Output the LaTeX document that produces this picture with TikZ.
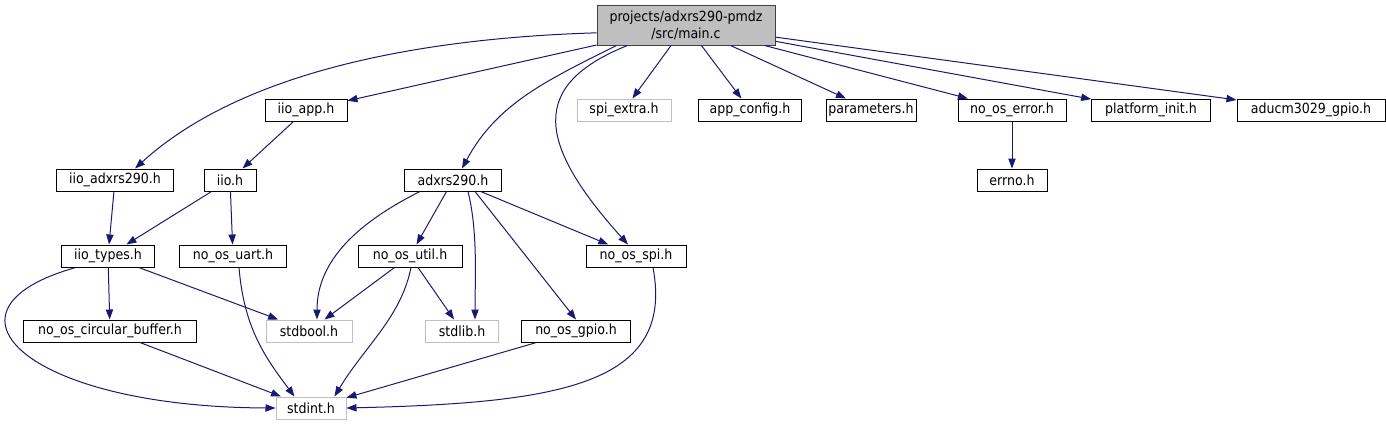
\documentclass[tikz,border=0pt]{standalone}
\usepackage{fontspec}
\setmainfont{DejaVu Sans Condensed}
\usetikzlibrary{calc, arrows.meta, positioning}
\definecolor{edgeblue}{HTML}{191970}
\definecolor{hdrgray}{HTML}{BFBFBF}
\begin{document}
\begin{tikzpicture}[x=0.75pt, y=-0.75pt, font=\fontsize{10.5}{12.5}\selectfont,
    hdr/.style={draw, line width=0.75pt, fill=white, minimum height=16.5pt, inner sep=1pt},
    syshdr/.style={hdr, draw=hdrgray},
    inc/.style={edgeblue, line width=0.75pt, -{Triangle[length=7.5pt, width=5.5pt]}}]
  \useasboundingbox (0,0) rectangle (1386,425);
  \node[hdr, fill=hdrgray, draw=black!75, minimum width=133.5pt, minimum height=30pt, align=center] (main) at (686,25) {projects/adxrs290-pmdz\\/src/main.c};
  \node[hdr, minimum width=61.5pt] (iioapp) at (306,110) {iio\_app.h};
  \node[syshdr, minimum width=70.5pt] (spiextra) at (624,110) {spi\_extra.h};
  \node[hdr, minimum width=77pt] (appconfig) at (750,110) {app\_config.h};
  \node[hdr, minimum width=67.5pt] (params) at (871,110) {parameters.h};
  \node[hdr, minimum width=81pt] (noerr) at (1012,110) {no\_os\_error.h};
  \node[hdr, minimum width=89pt] (platinit) at (1151,110) {platform\_init.h};
  \node[hdr, minimum width=111pt] (aducm) at (1311,110) {aducm3029\_gpio.h};
  \node[hdr, minimum width=88pt] (iioadx) at (115,180) {iio\_adxrs290.h};
  \node[hdr, minimum width=39pt] (iio) at (230,180) {iio.h};
  \node[hdr, minimum width=73pt] (adxrs) at (453,180) {adxrs290.h};
  \node[hdr, minimum width=52.5pt] (errno) at (1012,180) {errno.h};
  \node[hdr, minimum width=70pt] (iiotypes) at (108,256) {iio\_types.h};
  \node[hdr, minimum width=80pt] (uart) at (233,256) {no\_os\_uart.h};
  \node[hdr, minimum width=78pt] (util) at (410,256) {no\_os\_util.h};
  \node[hdr, minimum width=75pt] (spi) at (636,256) {no\_os\_spi.h};
  \node[hdr, minimum width=130pt] (circbuf) at (110,331) {no\_os\_circular\_buffer.h};
  \node[syshdr, minimum width=64.5pt] (stdbool) at (309,331) {stdbool.h};
  \node[syshdr, minimum width=55pt] (stdlib) at (462,331) {stdlib.h};
  \node[hdr, minimum width=82pt] (gpio) at (576,331) {no\_os\_gpio.h};
  \node[syshdr, minimum width=52.5pt] (stdint) at (311,408) {stdint.h};

  \draw[inc] (main.185) .. controls +(-167,5) and +(110,-100) .. ($(iioadx.north)+(20,0)$);
  \draw[inc] (main) -- (iioapp);
  \draw[inc] ($(main.south west)+(20,0)$) .. controls +(-70,35) and +(35,-65) .. ($(adxrs.north)+(9,0)$);
  \draw[inc] ($(main.south west)+(31,0)$) .. controls +(-100,40) and +(-90,-100) .. ($(spi.north)+(-8,0)$);
  \draw[inc] (main) -- (spiextra); \draw[inc] (main) -- (appconfig);
  \draw[inc] (main) -- (params); \draw[inc] (main) -- (noerr);
  \draw[inc] (main) -- (platinit); \draw[inc] (main) -- (aducm);
  \draw[inc] (iioapp) -- (iio); \draw[inc] (noerr) -- (errno);
  \draw[inc] (iioadx) -- (iiotypes); \draw[inc] (iio) -- (iiotypes); \draw[inc] (iio) -- (uart);
  \draw[inc] ($(adxrs.south)+(-33,0)$) .. controls +(-60,30) and +(0,-60) .. ($(stdbool.north)+(8,0)$);
  \draw[inc] (adxrs) -- (util);
  \draw[inc] ($(adxrs.south)+(15,0)$) .. controls +(10,40) and +(0,-40) .. ($(stdlib.north)+(13,0)$);
  \draw[inc] ($(adxrs.south)+(22,0)$) -- (gpio.north);
  \draw[inc] (adxrs) -- (spi);
  \draw[inc] ($(iiotypes.south west)+(15,0)$) .. controls +(-150,42) and +(-250,-1) .. (stdint.west);
  \draw[inc] (iiotypes) -- (circbuf); \draw[inc] (iiotypes) -- (stdbool);
  \draw[inc] ($(uart.south)+(6,0)$) .. controls +(5,60) and +(-30,-40) .. ($(stdint.north west)+(19,0)$);
  \draw[inc] (util) -- (stdbool); \draw[inc] (util) -- (stdlib);
  \draw[inc] ($(util.south)+(1,0)$) .. controls +(-10,50) and +(30,-50) .. ($(stdint.north east)+(-12,0)$);
  \draw[inc] ($(spi.south)+(17,0)$) .. controls +(22,117) and +(214,-5) .. (stdint.east);
  \draw[inc] (circbuf) -- (stdint); \draw[inc] (gpio) -- (stdint);
\end{tikzpicture}
\end{document}
